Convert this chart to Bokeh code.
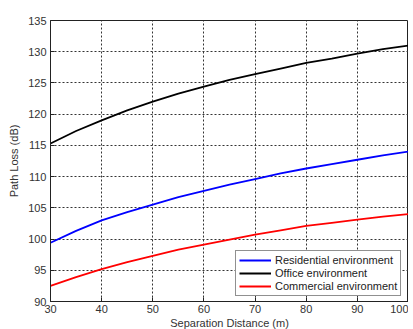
from bokeh.plotting import figure
from bokeh.embed import file_html
from bokeh.resources import INLINE
from bokeh.models import Legend, LegendItem, FixedTicker, Range1d

distance = [30, 35, 40, 45, 50, 55, 60, 65, 70, 75, 80, 85, 90, 95, 100]
residential = [99.4, 101.3, 103.0, 104.3, 105.5, 106.7, 107.7, 108.7, 109.6, 110.5, 111.3, 112.0, 112.7, 113.4, 114.0]
office = [115.3, 117.3, 119.0, 120.6, 122.0, 123.3, 124.4, 125.5, 126.4, 127.3, 128.2, 128.9, 129.7, 130.4, 131.0]
commercial = [92.5, 93.9, 95.2, 96.3, 97.3, 98.3, 99.1, 99.9, 100.7, 101.4, 102.1, 102.6, 103.1, 103.6, 104.0]
x_ticks = [30, 40, 50, 60, 70, 80, 90, 100]
y_ticks = [90, 95, 100, 105, 110, 115, 120, 125, 130, 135]

p = figure(frame_width=358, frame_height=281, output_backend="svg", toolbar_location=None,
           x_range=Range1d(30, 100), y_range=Range1d(90, 135),
           min_border_top=20, min_border_right=0, min_border_left=50, min_border_bottom=0)
p.background_fill_color = "white"
p.border_fill_color = "white"
p.outline_line_color = "#222222"
p.outline_line_width = 1

r1 = p.line(distance, residential, line_color="blue", line_width=1.8)
r2 = p.line(distance, office, line_color="black", line_width=1.8)
r3 = p.line(distance, commercial, line_color="red", line_width=1.8)

font = "Liberation Sans"
for ax in (p.xaxis[0], p.yaxis[0]):
    ax.major_label_text_font = font
    ax.major_label_text_font_size = "11px"
    ax.major_label_text_color = "#333333"
    ax.axis_label_text_font = font
    ax.axis_label_text_font_size = "11px"
    ax.axis_label_text_font_style = "normal"
    ax.axis_label_text_color = "#333333"
    ax.major_tick_in = 4
    ax.major_tick_out = 0
    ax.minor_tick_in = 0
    ax.minor_tick_out = 0
    ax.axis_line_color = "#222222"
    ax.major_tick_line_color = "#222222"

p.xaxis.ticker = FixedTicker(ticks=x_ticks)
p.yaxis.ticker = FixedTicker(ticks=y_ticks)
p.xaxis.axis_label = "Separation Distance (m)"
p.yaxis.axis_label = "Path Loss (dB)"
p.xaxis.major_label_standoff = 3
p.xaxis.axis_label_standoff = 1
p.yaxis.major_label_standoff = 4
p.yaxis.axis_label_standoff = 5

p.grid.grid_line_color = "#333333"
p.grid.grid_line_dash = "2 2"
p.grid.grid_line_width = 1
p.xgrid.ticker = FixedTicker(ticks=x_ticks)
p.ygrid.ticker = FixedTicker(ticks=y_ticks)

legend = Legend(items=[
    LegendItem(label="Residential environment", renderers=[r1]),
    LegendItem(label="Office environment", renderers=[r2]),
    LegendItem(label="Commercial environment", renderers=[r3]),
], location=(185, 5))
legend.label_text_font = font
legend.label_text_font_size = "11px"
legend.label_text_color = "#222222"
legend.border_line_color = "#222222"
legend.border_line_width = 1
legend.background_fill_alpha = 1
legend.glyph_width = 32
legend.glyph_height = 12
legend.label_height = 12
legend.spacing = 1
legend.padding = 3
legend.margin = 0
legend.label_standoff = 4
p.add_layout(legend)

open("out.html", "w").write(file_html(p, INLINE))
